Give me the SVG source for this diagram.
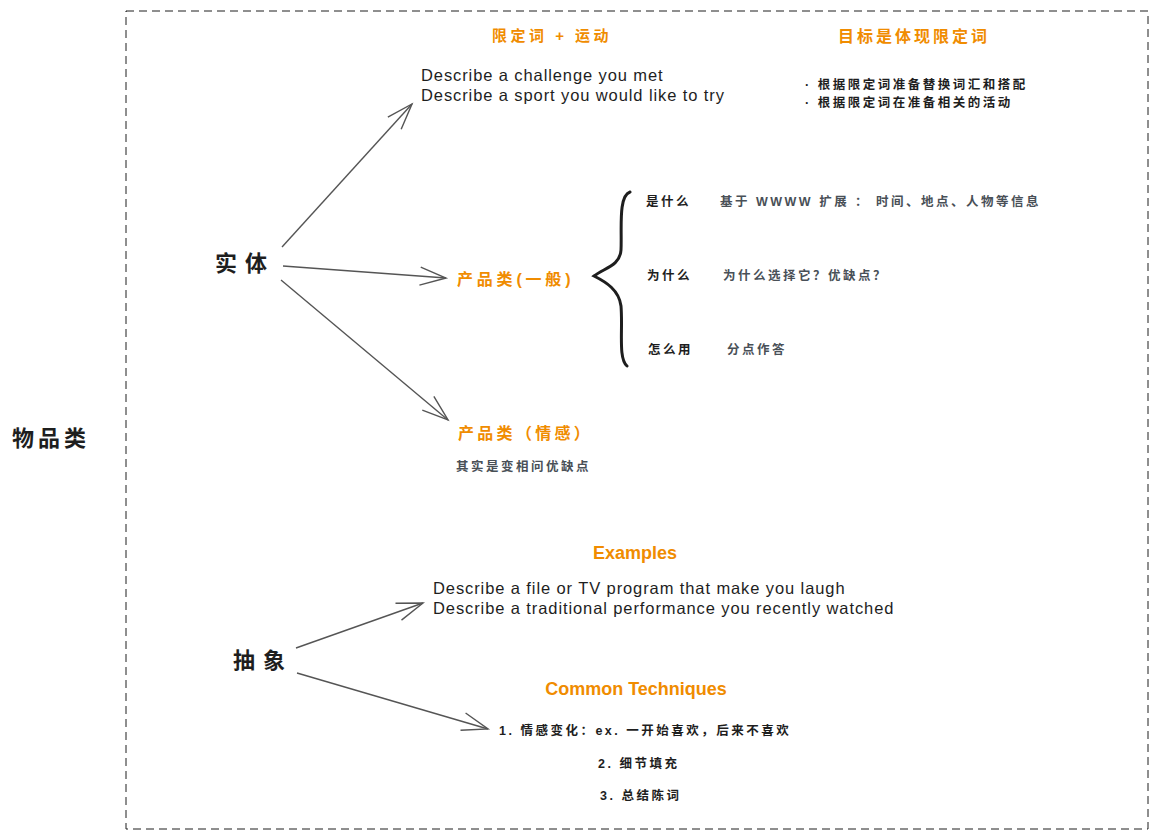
<svg xmlns="http://www.w3.org/2000/svg" width="1159" height="839" viewBox="0 0 1159 839">
<style>
text{font-family:"Liberation Sans","Noto Sans CJK SC",sans-serif;}
.big{font-size:22px;font-weight:bold;fill:#1e1e1e;}
.org{fill:#f08c00;font-weight:bold;}
.en{font-size:16.5px;fill:#1e1e1e;letter-spacing:0.9px;}
.cn{font-size:12.5px;fill:#1e1e1e;font-weight:bold;letter-spacing:2.5px;}
.gr{font-size:12.5px;fill:#495057;font-weight:bold;letter-spacing:2.5px;}
.conn{stroke:#555;stroke-width:1.4;fill:none;marker-end:url(#ah);}
</style>
<defs>
<marker id="ah" markerUnits="userSpaceOnUse" markerWidth="34" markerHeight="26" viewBox="-30 -13 34 26" refX="0" refY="0" orient="auto">
<path d="M -26 -9 L 0 0 L -26 9" fill="none" stroke="#555" stroke-width="1.4"/>
</marker>
</defs>
<rect x="0" y="0" width="1159" height="839" fill="#ffffff"/>
<rect id="frame" x="126" y="11" width="1022" height="818" fill="none" stroke="#1e1e1e" stroke-width="1" stroke-dasharray="8 5"/>
<g id="connectors">
<path class="conn" d="M 282 247 L 412 104"/>
<path class="conn" d="M 283 266 L 446 278"/>
<path class="conn" d="M 281 280 L 448 420"/>
<path class="conn" d="M 296 648 L 423 603"/>
<path class="conn" d="M 297 673 L 488 729"/>
</g>
<g id="brace">
<path d="M 630 192 C 618 196 622 230 621 250 C 620 266 604 268 594 276 C 606 282 619 290 621 306 C 623 330 618 358 627 366" fill="none" stroke="#1e1e1e" stroke-width="3" stroke-linecap="round"/>
</g>
<g id="n-wupinlei"><text class="big" x="12" y="446" letter-spacing="4">物品类</text></g>
<g id="n-shiti"><text class="big" x="215" y="271" letter-spacing="8">实体</text></g>
<g id="n-chouxiang"><text class="big" x="233" y="668" letter-spacing="8">抽象</text></g>
<g id="n-sport">
<text class="org" x="492" y="41" font-size="15" letter-spacing="3.5">限定词 + 运动</text>
<text class="en" x="421" y="81">Describe a challenge you met</text>
<text class="en" x="421" y="101">Describe a sport you would like to try</text>
</g>
<g id="n-goal">
<text class="org" x="838" y="42" font-size="16" letter-spacing="3">目标是体现限定词</text>
<text class="cn" x="805" y="89" letter-spacing="3.5">· 根据限定词准备替换词汇和搭配</text>
<text class="cn" x="805" y="107" letter-spacing="3.5">· 根据限定词在准备相关的活动</text>
</g>
<g id="n-general">
<text class="org" x="457" y="285" font-size="16" letter-spacing="3.8">产品类(一般)</text>
</g>
<g id="n-what">
<text class="cn" x="646" y="206" letter-spacing="3">是什么</text>
<text class="gr" x="720" y="206" letter-spacing="3">基于 WWWW 扩展 ： 时间、地点、人物等信息</text>
</g>
<g id="n-why">
<text class="cn" x="647" y="280" letter-spacing="3">为什么</text>
<text class="gr" x="723" y="280" letter-spacing="4">为什么选择它？优缺点？</text>
</g>
<g id="n-how">
<text class="cn" x="648" y="354" letter-spacing="3">怎么用</text>
<text class="gr" x="727" y="354" letter-spacing="3">分点作答</text>
</g>
<g id="n-emotion">
<text class="org" x="458" y="439" font-size="16" letter-spacing="3.3">产品类（情感）</text>
<text class="gr" x="456" y="471" letter-spacing="4">其实是变相问优缺点</text>
</g>
<g id="n-examples">
<text class="org" x="635" y="559" font-size="18" text-anchor="middle">Examples</text>
<text class="en" x="433" y="594">Describe a file or TV program that make you laugh</text>
<text class="en" x="433" y="614">Describe a traditional performance you recently watched</text>
</g>
<g id="n-techniques">
<text class="org" x="636" y="695" font-size="18" text-anchor="middle">Common Techniques</text>
<text class="cn" x="499" y="735" letter-spacing="3.5">1. 情感变化：ex. 一开始喜欢，后来不喜欢</text>
<text class="cn" x="598" y="768" letter-spacing="3.5">2. 细节填充</text>
<text class="cn" x="600" y="800" letter-spacing="3.5">3. 总结陈词</text>
</g>
</svg>
